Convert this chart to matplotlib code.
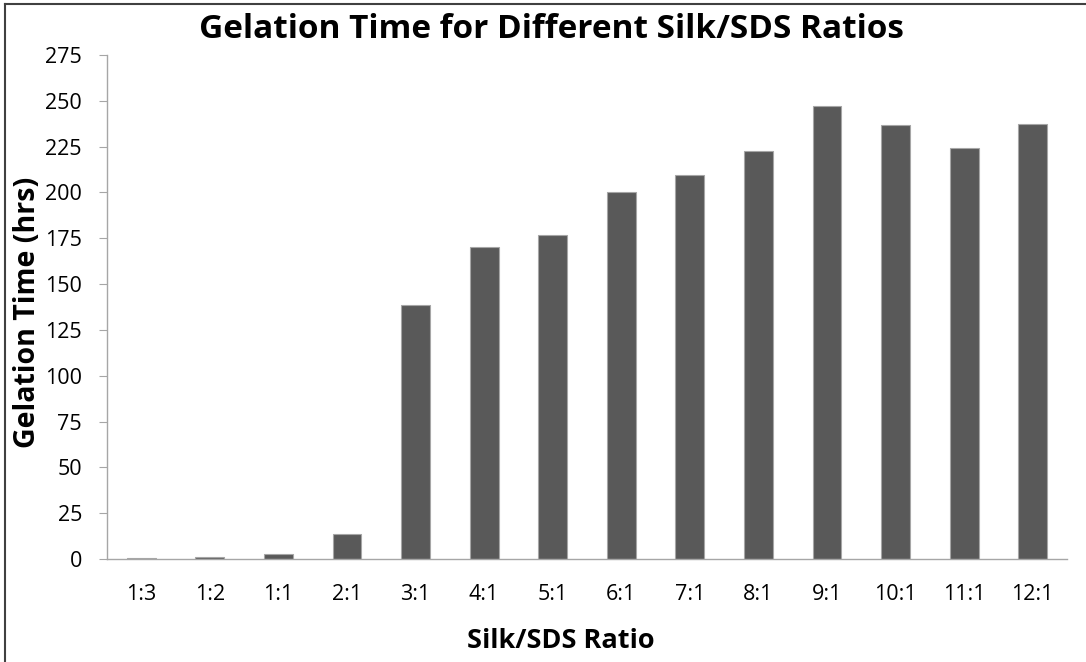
import matplotlib.pyplot as plt
from matplotlib.lines import Line2D

ratios = ["1:3", "1:2", "1:1", "2:1", "3:1", "4:1", "5:1", "6:1", "7:1",
          "8:1", "9:1", "10:1", "11:1", "12:1"]
gel_hours = [0.6, 1.0, 2.7, 13.5, 138.5, 170.2, 177.0, 200.1, 209.4,
             222.5, 247.2, 236.6, 224.1, 237.4]
y_ticks = list(range(0, 276, 25))

plt.rcParams["font.family"] = ["Open Sans", "DejaVu Sans"]

fig = plt.figure(figsize=(10.86, 6.62), dpi=100)
ax = fig.add_axes([0.0985, 0.1556, 0.884, 0.7613])

x = range(len(ratios))
ax.bar(x, gel_hours, width=0.42, color="#595959", edgecolor="#a6a6a6", linewidth=0.8)

ax.set_xlim(-0.5, len(ratios) - 0.5)
ax.set_ylim(0, 275)
ax.set_yticks(y_ticks)
ax.set_xticks(list(x))
ax.set_xticklabels(ratios)

for side in ["top", "right"]:
    ax.spines[side].set_visible(False)
for side in ["left", "bottom"]:
    ax.spines[side].set_color("#a6a6a6")
    ax.spines[side].set_linewidth(1.0)

ax.tick_params(axis="y", direction="out", length=6, color="#a6a6a6", labelsize=15.5, pad=12)
ax.tick_params(axis="x", length=0, labelsize=15.5, pad=18)

fig.text(0.508, 0.955, "Gelation Time for Different Silk/SDS Ratios", fontsize=24,
         fontweight="bold", ha="center", va="center")
ax.set_ylabel("Gelation Time (hrs)", fontsize=20.5, fontweight="bold", va="center")
ax.yaxis.set_label_coords(-0.083, 0.49)
ax.set_xlabel("Silk/SDS Ratio", fontsize=19.5, fontweight="bold", va="center")
ax.xaxis.set_label_coords(0.473, -0.163)

# frame of the original chart area (cropped on right and bottom)
fig.add_artist(Line2D([0.005, 1.0], [0.994, 0.994], transform=fig.transFigure, color="#404040", linewidth=1.5))
fig.add_artist(Line2D([0.005, 0.005], [0.0, 0.994], transform=fig.transFigure, color="#404040", linewidth=1.5))

fig.savefig("out.png", dpi=100)
plt.close(fig)
